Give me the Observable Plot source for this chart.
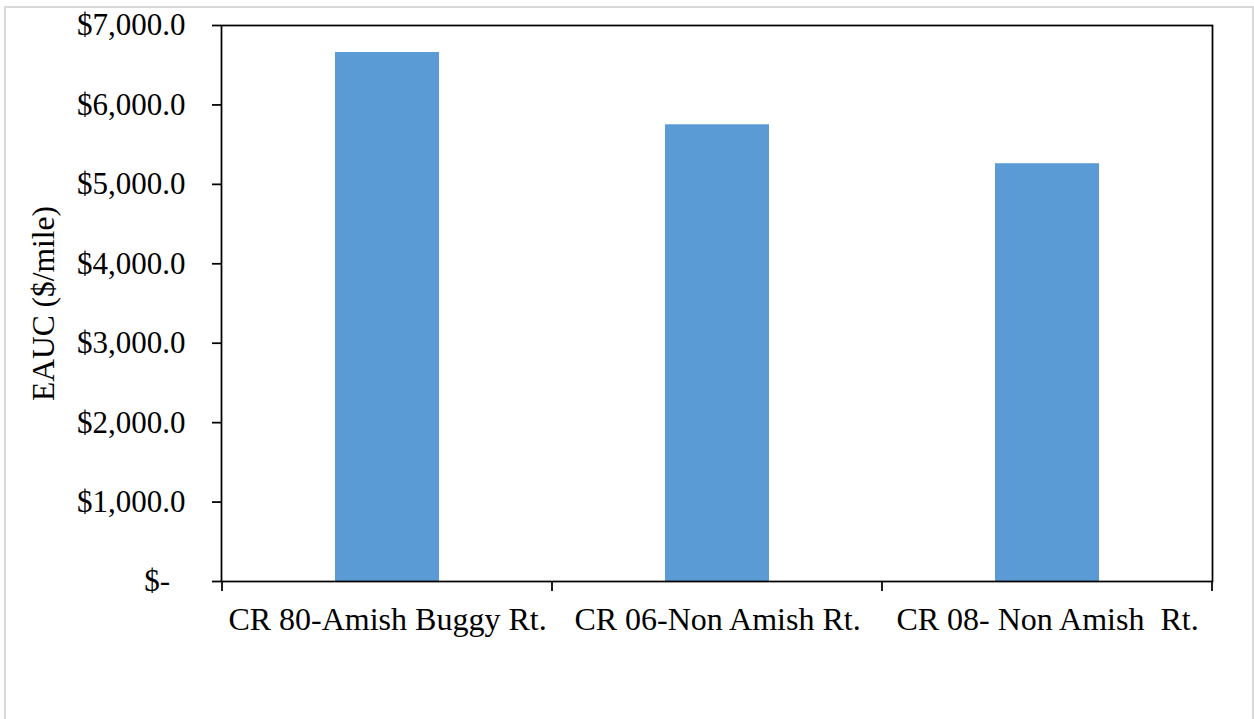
<!DOCTYPE html>
<html><head><meta charset="utf-8">
<script src="https://cdn.jsdelivr.net/npm/d3@7"></script>
<script src="https://cdn.jsdelivr.net/npm/@observablehq/plot@0.6"></script>
<style>
html,body{margin:0;padding:0;background:#fff;overflow:hidden;width:1254px;height:719px;}
#border{position:absolute;left:4px;top:6px;width:1250px;height:760px;border:2px solid #d9d9d9;box-sizing:border-box;}
#chart{position:absolute;left:0;top:0;}
#chart svg, #chart svg text{font-family:"Liberation Serif", "DejaVu Serif", serif !important;white-space:pre;}
</style></head><body>
<div id="border"></div><div id="chart"></div>
<script>
const categories = ["CR 80-Amish Buggy Rt.", "CR 06-Non Amish Rt.", "CR 08- Non Amish  Rt."];
const values = [6660, 5750, 5260];
const yTicks = [0, 1000, 2000, 3000, 4000, 5000, 6000, 7000];
const yLabel = "EAUC ($/mile)";
const barColor = "#5B9BD5";
const FONT = "Liberation Serif";

const data = categories.map((c, i) => ({route: c, eauc: values[i]}));
const fmt = d => d === 0 ? "$-\u00a0\u00a0" : "$" + d3.format(",.1f")(d);

const boundaryTicks = (index, scales, vals, dims) => {
  const x = scales.x;
  const left = dims.marginLeft, right = dims.width - dims.marginRight;
  let edges;
  if (x && typeof x.bandwidth === "function") {
    edges = categories.map(c => x(c));
    edges.push(x(categories[categories.length - 1]) + x.bandwidth());
  } else {
    edges = d3.range(categories.length + 1).map(i => left + i * (right - left) / categories.length);
  }
  const y0 = dims.height - dims.marginBottom;
  const g = d3.create("svg:g").attr("stroke", "#000").attr("stroke-width", 1.75);
  g.selectAll("line").data(edges).join("line")
    .attr("x1", d => d).attr("x2", d => d)
    .attr("y1", y0).attr("y2", y0 + 10);
  return g.node();
};

const chart = Plot.plot({
  width: 1254,
  height: 719,
  marginLeft: 221,
  marginRight: 42,
  marginTop: 25,
  marginBottom: 138,
  style: {fontFamily: FONT, fontSize: "31px", color: "#000", background: "transparent"},
  x: {domain: categories, padding: 0, label: null},
  y: {domain: [0, 7000], label: null},
  marks: [
    Plot.barY(data, {x: "route", y: "eauc", fill: barColor, insetLeft: 113, insetRight: 113}),
    Plot.frame({stroke: "#000", strokeWidth: 1.75}),
    Plot.axisY({ticks: yTicks, tickSize: 9, tickPadding: 27, tickFormat: fmt, fontSize: 31, fontFamily: FONT, strokeWidth: 1.75, label: null}),
    Plot.axisX({tickSize: 0, tickPadding: 26, fontSize: 32, fontFamily: FONT, label: null}),
    boundaryTicks,
    Plot.text([yLabel], {frameAnchor: "left", rotate: -90, dx: -178, fontSize: 31.5, fontFamily: FONT, textAnchor: "middle", lineAnchor: "middle", text: d => d})
  ]
});
document.getElementById("chart").appendChild(chart);
</script>
</body></html>
